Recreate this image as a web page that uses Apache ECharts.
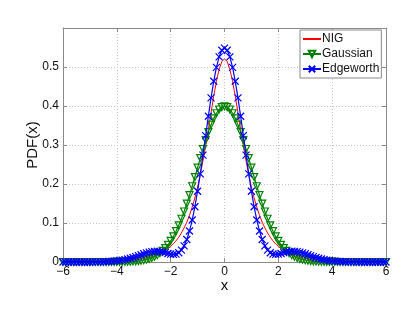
<!DOCTYPE html>
<html>
<head>
<meta charset="utf-8">
<script src="https://cdn.jsdelivr.net/npm/echarts@6/dist/echarts.min.js"></script>
<style>html,body{margin:0;padding:0;background:#fff;}#c{width:407px;height:315px;}</style>
</head>
<body>
<div id="c"></div>
<script>
const xs = [-6.0,-5.9,-5.8,-5.7,-5.6,-5.5,-5.4,-5.3,-5.2,-5.1,
-5.0,-4.9,-4.8,-4.7,-4.6,-4.5,-4.4,-4.3,-4.2,-4.1,
-4.0,-3.9,-3.8,-3.7,-3.6,-3.5,-3.4,-3.3,-3.2,-3.1,
-3.0,-2.9,-2.8,-2.7,-2.6,-2.5,-2.4,-2.3,-2.2,-2.1,
-2.0,-1.9,-1.8,-1.7,-1.6,-1.5,-1.4,-1.3,-1.2,-1.1,
-1.0,-0.9,-0.8,-0.7,-0.6,-0.5,-0.4,-0.3,-0.2,-0.1,
0.0,0.1,0.2,0.3,0.4,0.5,0.6,0.7,0.8,0.9,
1.0,1.1,1.2,1.3,1.4,1.5,1.6,1.7,1.8,1.9,
2.0,2.1,2.2,2.3,2.4,2.5,2.6,2.7,2.8,2.9,
3.0,3.1,3.2,3.3,3.4,3.5,3.6,3.7,3.8,3.9,
4.0,4.1,4.2,4.3,4.4,4.5,4.6,4.7,4.8,4.9,
5.0,5.1,5.2,5.3,5.4,5.5,5.6,5.7,5.8,5.9,6.0];

const nig = [0.00018,0.00020,0.00022,0.00025,0.00029,0.00033,0.00037,0.00042,0.00048,0.00054,
0.00061,0.00070,0.00079,0.00090,0.00103,0.00117,0.00134,0.00153,0.00175,0.00200,
0.00228,0.00261,0.00299,0.00342,0.00392,0.00449,0.00516,0.00594,0.00684,0.00787,
0.00906,0.01045,0.01207,0.01395,0.01615,0.01872,0.02172,0.02524,0.02937,0.03421,
0.03989,0.04657,0.05441,0.06364,0.07452,0.08732,0.10232,0.12001,0.14063,0.16459,
0.19224,0.22378,0.25924,0.29829,0.34009,0.38315,0.42519,0.46323,0.49387,0.51386,
0.52080,
0.51386,0.49387,0.46323,0.42519,0.38315,0.34009,0.29829,0.25924,0.22378,0.19224,
0.16459,0.14063,0.12001,0.10232,0.08732,0.07452,0.06364,0.05441,0.04657,0.03989,
0.03421,0.02937,0.02524,0.02172,0.01872,0.01615,0.01395,0.01207,0.01045,0.00906,
0.00787,0.00684,0.00594,0.00516,0.00449,0.00392,0.00342,0.00299,0.00261,0.00228,
0.00200,0.00175,0.00153,0.00134,0.00117,0.00103,0.00090,0.00079,0.00070,0.00061,
0.00054,0.00048,0.00042,0.00037,0.00033,0.00029,0.00025,0.00022,0.00020,0.00018];

const gaussian = [0,0,0,0,0,0,0,0,0,0,
0,0,0,0.00001,0.00001,0.00002,0.00002,0.00004,0.00006,0.00009,
0.00013,0.00020,0.00029,0.00042,0.00061,0.00087,0.00123,0.00172,0.00238,0.00327,
0.00443,0.00595,0.00792,0.01042,0.01358,0.01753,0.02239,0.02833,0.03547,0.04398,
0.05399,0.06562,0.07895,0.09405,0.11092,0.12952,0.14973,0.17137,0.19419,0.21785,
0.24197,0.26609,0.28969,0.31225,0.33322,0.35207,0.36827,0.38139,0.39104,0.39695,
0.39894,
0.39695,0.39104,0.38139,0.36827,0.35207,0.33322,0.31225,0.28969,0.26609,0.24197,
0.21785,0.19419,0.17137,0.14973,0.12952,0.11092,0.09405,0.07895,0.06562,0.05399,
0.04398,0.03547,0.02833,0.02239,0.01753,0.01358,0.01042,0.00792,0.00595,0.00443,
0.00327,0.00238,0.00172,0.00123,0.00087,0.00061,0.00042,0.00029,0.00020,0.00013,
0.00009,0.00006,0.00004,0.00002,0.00002,0.00001,0.00001,0,0,0,
0,0,0,0,0,0,0,0,0,0,0];

const edgeworth = [0,0,0,0,0,0.00001,0.00001,0.00002,0.00004,0.00006,
0.00009,0.00014,0.00020,0.00029,0.00042,0.00060,0.00084,0.00116,0.00159,0.00215,
0.00286,0.00376,0.00485,0.00618,0.00774,0.00956,0.01157,0.01381,0.01619,0.01868,
0.02104,0.02326,0.02517,0.02658,0.02739,0.02753,0.02692,0.02565,0.02388,0.02192,
0.02025,0.01946,0.02031,0.02365,0.03041,0.04149,0.05768,0.07960,0.10762,0.14171,
0.18148,0.22605,0.27410,0.32396,0.37361,0.42083,0.46336,0.49905,0.52603,0.54283,
0.54855,
0.54283,0.52603,0.49905,0.46336,0.42083,0.37361,0.32396,0.27410,0.22605,0.18148,
0.14171,0.10762,0.07960,0.05768,0.04149,0.03041,0.02365,0.02031,0.01946,0.02025,
0.02192,0.02388,0.02565,0.02692,0.02753,0.02739,0.02658,0.02517,0.02326,0.02104,
0.01868,0.01619,0.01381,0.01157,0.00956,0.00774,0.00618,0.00485,0.00376,0.00286,
0.00215,0.00159,0.00116,0.00084,0.00060,0.00042,0.00029,0.00020,0.00014,0.00009,
0.00006,0.00004,0.00002,0.00001,0.00001,0,0,0,0,0];

const seriesNames = ['NIG','Gaussian','Edgeworth'];
const xTicks = {min:-6, max:6, step:2};
const yTicks = {min:0, max:0.6, step:0.1};

const pairs = arr => xs.map((x,i)=>[x, arr[i]]);
const FONT = 'Liberation Sans, Arial, Helvetica, sans-serif';
const axisGray = '#8a8a8a';
const xMarker = 'path://M0,0L10,10M10,0L0,10';

const chart = echarts.init(document.getElementById('c'), null, {renderer:'canvas'});
const baseAxis = {
  axisLine:{show:true, onZero:false, lineStyle:{color:axisGray, width:1}},
  axisTick:{show:true, inside:true, length:4, lineStyle:{color:axisGray}},
};
chart.setOption({
  animation:false,
  backgroundColor:'#fff',
  grid:{left:63, right:21, top:28, bottom:53, containLabel:false},
  legend:{
    data:[
      {name:seriesNames[0], itemStyle:{color:'rgba(0,0,0,0)', borderWidth:0, opacity:0}},
      {name:seriesNames[1]},
      {name:seriesNames[2]}
    ],
    orient:'vertical', left:300, top:30,
    backgroundColor:'#fff', borderColor:axisGray, borderWidth:1,
    padding:[3,2,3,2], itemGap:3, itemWidth:18, itemHeight:8,
    textStyle:{fontSize:12, color:'#111', fontFamily:FONT, padding:[0,0,0,-4]}
  },
  xAxis:[
    Object.assign({}, baseAxis, {
      type:'value', min:xTicks.min, max:xTicks.max, interval:xTicks.step, position:'bottom',
      axisLabel:{color:'#111', fontSize:12, fontFamily:FONT, margin:4,
        formatter:v=>String(v).replace('-','\u2212')},
      splitLine:{show:true, lineStyle:{type:[1,2], color:'#c4c4c4', width:1}},
      name:'x', nameLocation:'middle', nameGap:16, nameMoveOverlap:false,
      nameTextStyle:{fontSize:15, color:'#111', fontFamily:FONT}
    }),
    Object.assign({}, baseAxis, {
      type:'value', min:xTicks.min, max:xTicks.max, interval:xTicks.step, position:'top',
      axisLabel:{show:false}, splitLine:{show:false}
    })
  ],
  yAxis:[
    Object.assign({}, baseAxis, {
      type:'value', min:yTicks.min, max:yTicks.max, interval:yTicks.step, position:'left',
      axisLabel:{color:'#111', fontSize:12, fontFamily:FONT, margin:4,
        formatter:v=> v>0.55 ? '' : String(Math.round(v*10)/10)},
      splitLine:{show:true, lineStyle:{type:[1,2], color:'#c4c4c4', width:1}},
      name:'PDF(x)', nameLocation:'middle', nameGap:23, nameRotate:90, nameMoveOverlap:false,
      nameTextStyle:{fontSize:15, color:'#111', fontFamily:FONT}
    }),
    Object.assign({}, baseAxis, {
      type:'value', min:yTicks.min, max:yTicks.max, interval:yTicks.step, position:'right',
      axisLabel:{show:false}, splitLine:{show:false}
    })
  ],
  series:[
    {name:seriesNames[0], type:'line', data:pairs(nig), symbol:'none', showSymbol:false,
     lineStyle:{color:'#ff0000', width:1}, itemStyle:{color:'#ff0000'}, z:2},
    {name:seriesNames[1], type:'line', data:pairs(gaussian), symbol:'triangle', symbolRotate:180, symbolSize:7,
     showAllSymbol:true,
     lineStyle:{color:'#008000', width:1.2},
     itemStyle:{color:'rgba(0,0,0,0)', borderColor:'#008000', borderWidth:1.2}, z:3},
    {name:seriesNames[2], type:'line', data:pairs(edgeworth), symbol:xMarker, symbolSize:7,
     showAllSymbol:true,
     lineStyle:{color:'#0000ff', width:1.2},
     itemStyle:{color:'rgba(0,0,0,0)', borderColor:'#0000ff', borderWidth:1.2}, z:4}
  ]
});
</script>
</body>
</html>
